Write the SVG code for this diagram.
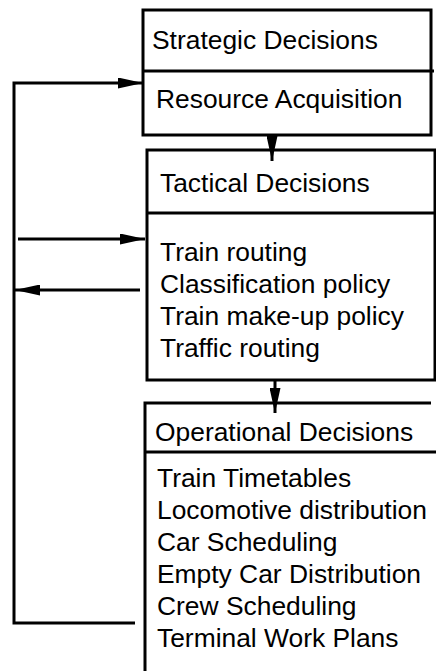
<svg xmlns="http://www.w3.org/2000/svg" width="436" height="671" viewBox="0 0 436 671">
  <style>
    .box { fill: none; stroke: #000; stroke-width: 3; }
    .conn { fill: none; stroke: #000; stroke-width: 3; }
    text { font-family: "Liberation Sans", Arial, sans-serif; font-size: 26.4px; fill: #000; }
  </style>
  <defs>
    <marker id="arr" markerUnits="userSpaceOnUse" markerWidth="25" markerHeight="11" refX="25" refY="5.5" orient="auto">
      <path d="M0,0 L25,5.5 L0,11 z" fill="#000"/>
    </marker>
  </defs>
  <rect width="436" height="671" fill="#fff"/>

  <g id="strategic">
    <rect class="box" x="143" y="10" width="288" height="125"/>
    <line class="box" x1="143" y1="71" x2="434" y2="71"/>
    <text x="152" y="49">Strategic Decisions</text>
    <text x="156" y="108">Resource Acquisition</text>
  </g>

  <g id="tactical">
    <rect class="box" x="147" y="150" width="288" height="230"/>
    <line class="box" x1="147" y1="213" x2="436" y2="213"/>
    <text x="160" y="192">Tactical Decisions</text>
    <text x="160" y="261">Train routing</text>
    <text x="160" y="293">Classification policy</text>
    <text x="160" y="325">Train make-up policy</text>
    <text x="160" y="357">Traffic routing</text>
  </g>

  <g id="operational">
    <path class="box" d="M431,403 H145 V675"/>
    <line class="box" x1="145" y1="452" x2="436" y2="452"/>
    <text x="155" y="441">Operational Decisions</text>
    <text x="157" y="487">Train Timetables</text>
    <text x="157" y="519">Locomotive distribution</text>
    <text x="157" y="551">Car Scheduling</text>
    <text x="157" y="583">Empty Car Distribution</text>
    <text x="157" y="615">Crew Scheduling</text>
    <text x="157" y="647">Terminal Work Plans</text>
  </g>

  <g id="connectors">
    <polyline class="conn" points="135,623 14,623 14,83 143,83" marker-end="url(#arr)"/>
    <line class="conn" x1="18" y1="239" x2="145" y2="239" marker-end="url(#arr)"/>
    <line class="conn" x1="140" y1="290" x2="15" y2="290" marker-end="url(#arr)"/>
    <line class="conn" x1="272" y1="135" x2="272" y2="161" marker-end="url(#arr)"/>
    <line class="conn" x1="275" y1="380" x2="275" y2="413" marker-end="url(#arr)"/>
  </g>
</svg>
